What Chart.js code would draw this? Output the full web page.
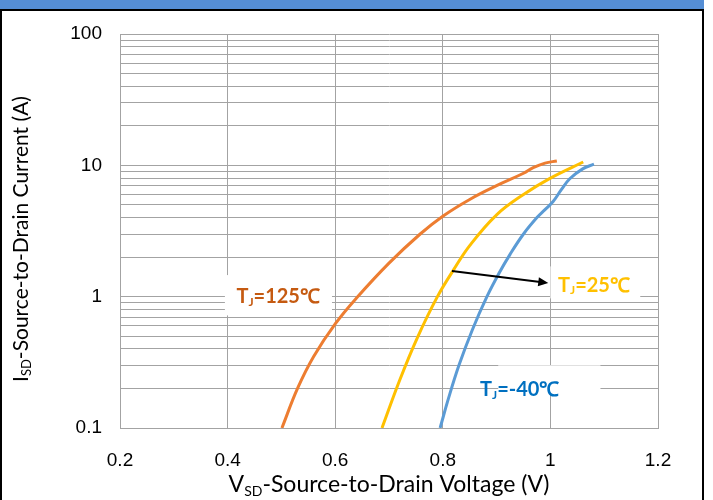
<!DOCTYPE html>
<html>
<head>
<meta charset="utf-8">
<script src="https://cdn.jsdelivr.net/npm/chart.js@4.4.1/dist/chart.umd.min.js"></script>
<style>
  html, body { margin: 0; padding: 0; background: #fff; }
  #wrap { position: relative; width: 713px; height: 500px; overflow: hidden; }
  #band { position: absolute; left: 0; top: 0; width: 704px; height: 9px; background: #558ed5; }
  #frame { position: absolute; left: 0; top: 9px; width: 700px; height: 500px; border: 2px solid #000; border-bottom: none; }
  #chart { position: absolute; left: 0; top: 0; }
</style>
</head>
<body>
<div id="wrap">
  <div id="band"></div>
  <div id="frame"></div>
  <canvas id="chart" width="713" height="500"></canvas>
</div>
<script>
// axis ticks
const xTicks = [0.2, 0.4, 0.6, 0.8, 1.0, 1.2];
const xTickLabels = ['0.2', '0.4', '0.6', '0.8', '1', '1.2'];
const yGrid = [0.1, 0.2, 0.3, 0.4, 0.5, 0.6, 0.7, 0.8, 0.9,
               1, 2, 3, 4, 5, 6, 7, 8, 9,
               10, 20, 30, 40, 50, 60, 70, 80, 90, 100];
const yMajor = [0.1, 1, 10, 100];
const yMajorLabels = ['0.1', '1', '10', '100'];

// curves: V (volts) and I (amps)
const v125 = [0.501, 0.53, 0.56, 0.60, 0.64, 0.70, 0.758, 0.80, 0.85, 0.90, 0.95, 0.968, 0.99, 1.012];
const i125 = [0.1, 0.2, 0.35, 0.62, 0.98, 1.8, 3.0, 4.1, 5.5, 7.0, 8.7, 9.6, 10.4, 10.8];

const v25 = [0.687, 0.72, 0.752, 0.79, 0.82, 0.85, 0.90, 0.95, 1.0, 1.061];
const i25 = [0.1, 0.232, 0.48, 1.0, 1.6, 2.45, 4.2, 6.0, 8.0, 10.6];

const vm40 = [0.795, 0.81, 0.83, 0.855, 0.882, 0.905, 0.925, 0.95, 0.975, 0.99, 1.005, 1.02, 1.036, 1.06, 1.081];
const im40 = [0.1, 0.165, 0.30, 0.56, 1.0, 1.52, 2.1, 3.0, 4.0, 4.6, 5.3, 6.5, 7.9, 9.4, 10.2];

// annotation labels, placed in data units
const noteTexts = ['=125℃', '=25℃', '=-40℃'];
const noteColors = ['#c55a11', '#ffc000', '#0070c0'];
const noteV = [0.494, 1.081, 0.943];
const noteI = [1.0, 1.22, 0.195];
const noteBoxV = [[0.395, 0.594], [1.0, 1.167], [0.903, 1.093]];
const noteBoxI = [[1.46, 0.72], [1.7, 0.97], [0.3, 0.18]];
const arrowV = [0.817, 0.996];
const arrowI = [1.57, 1.27];

const pts = (xs, ys) => xs.map((x, k) => ({ x: x, y: ys[k] }));

function drawRich(ctx, parts, cx, cy) {
  let w = 0;
  parts.forEach(p => { ctx.font = p.font; w += ctx.measureText(p.t).width; });
  let x = cx - w / 2;
  ctx.textBaseline = 'middle';
  ctx.textAlign = 'left';
  parts.forEach(p => {
    ctx.font = p.font;
    ctx.fillText(p.t, x, cy + (p.dy || 0));
    x += ctx.measureText(p.t).width;
  });
}

const overlay = {
  id: 'overlay',
  beforeDatasetsDraw(chart) {
    const { ctx, scales: { x, y } } = chart;
    ctx.save();
    ctx.fillStyle = '#fff';
    noteBoxV.forEach((bv, k) => {
      const x0 = x.getPixelForValue(bv[0]), x1 = x.getPixelForValue(bv[1]);
      const y0 = y.getPixelForValue(noteBoxI[k][0]), y1 = y.getPixelForValue(noteBoxI[k][1]);
      ctx.fillRect(x0, y0, x1 - x0, y1 - y0);
    });
    ctx.restore();
  },
  afterDatasetsDraw(chart) {
    const { ctx, scales: { x, y } } = chart;
    ctx.save();
    // labels
    noteTexts.forEach((t, k) => {
      ctx.fillStyle = noteColors[k];
      drawRich(ctx, [
        { t: 'T', font: 'bold 20px Lato' },
        { t: 'J', font: 'bold 12px Lato', dy: 5 },
        { t: t, font: 'bold 20px Lato' }
      ], x.getPixelForValue(noteV[k]), y.getPixelForValue(noteI[k]));
    });
    // arrow
    const ax0 = x.getPixelForValue(arrowV[0]), ay0 = y.getPixelForValue(arrowI[0]);
    const ax1 = x.getPixelForValue(arrowV[1]), ay1 = y.getPixelForValue(arrowI[1]);
    const ang = Math.atan2(ay1 - ay0, ax1 - ax0);
    ctx.strokeStyle = '#000';
    ctx.fillStyle = '#000';
    ctx.lineWidth = 2;
    ctx.beginPath();
    ctx.moveTo(ax0, ay0);
    ctx.lineTo(ax1 - 8 * Math.cos(ang), ay1 - 8 * Math.sin(ang));
    ctx.stroke();
    ctx.beginPath();
    ctx.moveTo(ax1, ay1);
    ctx.lineTo(ax1 - 10 * Math.cos(ang) + 4.5 * Math.sin(ang), ay1 - 10 * Math.sin(ang) - 4.5 * Math.cos(ang));
    ctx.lineTo(ax1 - 10 * Math.cos(ang) - 4.5 * Math.sin(ang), ay1 - 10 * Math.sin(ang) + 4.5 * Math.cos(ang));
    ctx.closePath();
    ctx.fill();
    // axis titles
    ctx.fillStyle = '#000';
    const ca = chart.chartArea;
    drawRich(ctx, [
      { t: 'V', font: '23px Lato' },
      { t: 'SD', font: '14px Lato', dy: 6 },
      { t: '-Source-to-Drain Voltage (V)', font: '23px Lato' }
    ], (ca.left + ca.right) / 2, 485);
    ctx.translate(21, 239);
    ctx.rotate(-Math.PI / 2);
    drawRich(ctx, [
      { t: 'I', font: '21px Lato' },
      { t: 'SD', font: '13px Lato', dy: 6 },
      { t: '-Source-to-Drain Current (A)', font: '21px Lato' }
    ], 0, 0);
    ctx.restore();
  }
};

const gridColor = '#a3a3a3';

new Chart(document.getElementById('chart'), {
  type: 'line',
  data: {
    datasets: [
      { label: 'TJ=125℃', data: pts(v125, i125), borderColor: '#ed7d31' },
      { label: 'TJ=25℃', data: pts(v25, i25), borderColor: '#ffc000' },
      { label: 'TJ=-40℃', data: pts(vm40, im40), borderColor: '#5b9bd5' }
    ].map(d => Object.assign(d, { borderWidth: 3, pointRadius: 0, tension: 0.4, fill: false }))
  },
  options: {
    responsive: false,
    animation: false,
    layout: { padding: { left: 0, right: 55, top: 34, bottom: 0 } },
    plugins: { legend: { display: false }, tooltip: { enabled: false } },
    scales: {
      x: {
        type: 'linear',
        min: 0.2,
        max: 1.2,
        afterBuildTicks: s => { s.ticks = xTicks.map(v => ({ value: v })); },
        afterFit: s => { s.height = 72; },
        ticks: {
          autoSkip: false,
          maxRotation: 0,
          padding: 21,
          color: '#000',
          font: { family: 'Liberation Sans', size: 19 },
          callback: (v, i) => xTickLabels[i]
        },
        grid: { color: gridColor, drawTicks: false },
        border: { color: gridColor }
      },
      y: {
        type: 'logarithmic',
        min: 0.1,
        max: 100,
        afterBuildTicks: s => { s.ticks = yGrid.map(v => ({ value: v })); },
        afterFit: s => { s.width = 120; },
        ticks: {
          autoSkip: false,
          padding: 18,
          color: '#000',
          font: { family: 'Liberation Sans', size: 19 },
          callback: v => {
            const k = yMajor.findIndex(m => Math.abs(m - v) < 1e-9);
            return k >= 0 ? yMajorLabels[k] : '';
          }
        },
        grid: { color: gridColor, drawTicks: false },
        border: { color: gridColor }
      }
    }
  },
  plugins: [overlay]
});
</script>
</body>
</html>
